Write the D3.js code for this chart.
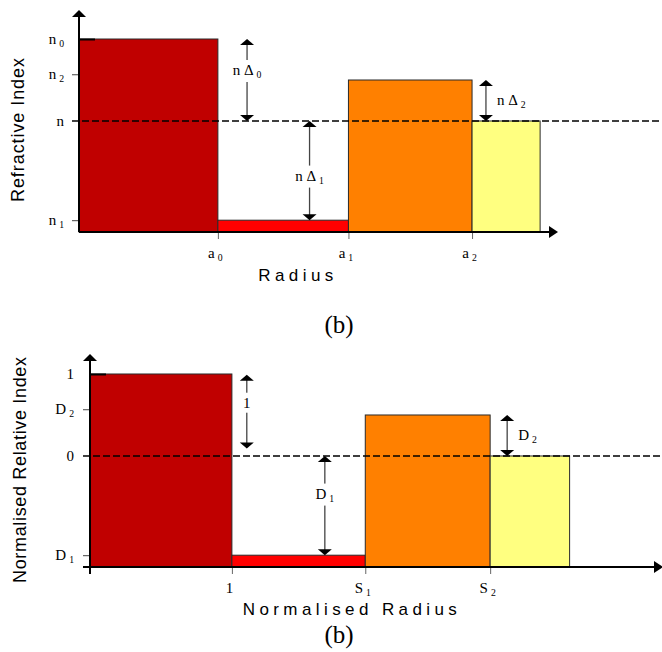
<!DOCTYPE html>
<html>
<head>
<meta charset="utf-8">
<script src="https://cdn.jsdelivr.net/npm/d3@7"></script>
<style>
  body { margin: 0; background: #fff; }
  svg { display: block; }
</style>
</head>
<body>
<div id="chart"></div>
<script>
var svgWidth = 662;
var svgHeight = 652;

// profile regions (core, ring 1, ring 2, cladding)
var regionNames = ["core", "ring1", "ring2", "cladding"];
var regionColors = ["#C00000", "#FF0000", "#FF8000", "#FFFF80"];
var profileValues = [1, -1.21, 0.5, 0];
var topOuterRadius = [1, 1.94, 2.83, 3.32];
var bottomOuterRadius = [1, 1.94, 2.82, 3.38];

// tick labels as [base, subscript]
var yTickValues = [1, 0.57, 0, -1.21];
var topYTickLabels = [["n", "0"], ["n", "2"], ["n", ""], ["n", "1"]];
var bottomYTickLabels = [["1", ""], ["D", "2"], ["0", ""], ["D", "1"]];
var topXTickLabels = [["a", "0"], ["a", "1"], ["a", "2"]];
var bottomXTickLabels = [["1", ""], ["S", "1"], ["S", "2"]];

// difference arrows: [radius, from value, to value]
var topArrows = [[1.21, 1, 0], [1.66, 0, -1.21], [2.93, 0.5, 0]];
var bottomArrows = [[1.105, 0.99, 0.09], [1.655, 0, -1.21], [2.94, 0.5, 0]];
var topArrowLabels = [["n \u0394", "0"], ["n \u0394", "1"], ["n \u0394", "2"]];
var bottomArrowLabels = [["1", ""], ["D", "1"], ["D", "2"]];

var serif = "'Liberation Serif', 'Times New Roman', serif";
var sans = "'Liberation Sans', Arial, sans-serif";

var svg = d3.select("#chart")
  .append("svg")
  .attr("width", svgWidth)
  .attr("height", svgHeight);

function subLabel(sel, parts, size) {
  sel.text(null);
  sel.append("tspan").text(parts[0]);
  if (parts[1]) {
    sel.append("tspan")
      .attr("dx", 3)
      .attr("dy", 3)
      .attr("font-size", size * 0.65)
      .text(parts[1]);
  }
}

var panels = [
  {
    outer: topOuterRadius, yLabels: topYTickLabels, xLabels: topXTickLabels,
    arrows: topArrows, arrowLabels: topArrowLabels, labelShift: [-10, 5, 0],
    left: 79, right: 554, top: 14, bottom: 232, xMax: 3.42, yMin: -1.354, yMax: 1.305,
    axisExt: 0, yLabelGap: 15,
    yTitle: "Refractive Index", yTitleX: 24, yTitleY: 130, yTitleLen: 144,
    xTitle: "Radius", xTitleX: 296, xTitleY: 281,
    caption: 333
  },
  {
    outer: bottomOuterRadius, yLabels: bottomYTickLabels, xLabels: bottomXTickLabels,
    arrows: bottomArrows, arrowLabels: bottomArrowLabels, labelShift: [-9, -12, 0],
    left: 90, right: 659, top: 358, bottom: 567, xMax: 4.01, yMin: -1.354, yMax: 1.195,
    axisExt: 7, yLabelGap: 16,
    yTitle: "Normalised Relative Index", yTitleX: 26, yTitleY: 470, yTitleLen: 226,
    xTitle: "Normalised Radius", xTitleX: 350, xTitleY: 615,
    caption: 643
  }
];

panels.forEach(function (cfg) {
  var x = d3.scaleLinear().domain([0, cfg.xMax]).range([cfg.left, cfg.right]);
  var y = d3.scaleLinear().domain([cfg.yMin, cfg.yMax]).range([cfg.bottom, cfg.top]);
  var g = svg.append("g");
  var inner = [0].concat(cfg.outer.slice(0, -1));

  // region bars
  g.selectAll("rect.region")
    .data(regionNames)
    .enter()
    .append("rect")
    .attr("class", "region")
    .attr("x", (d, i) => x(inner[i]))
    .attr("width", (d, i) => x(cfg.outer[i]) - x(inner[i]))
    .attr("y", (d, i) => y(profileValues[i]))
    .attr("height", (d, i) => y(cfg.yMin) - y(profileValues[i]))
    .attr("fill", (d, i) => regionColors[i])
    .attr("stroke", "#2a2a2a")
    .attr("stroke-width", 1);

  // reference (cladding) level
  g.append("line")
    .attr("x1", cfg.left - 7)
    .attr("x2", svgWidth)
    .attr("y1", y(0))
    .attr("y2", y(0))
    .attr("stroke", "#000")
    .attr("stroke-width", 1.6)
    .attr("stroke-dasharray", "7,3");

  // x ticks
  var xAxis = d3.axisBottom(x)
    .tickValues(cfg.outer.slice(0, 3))
    .tickSize(7)
    .tickSizeOuter(0)
    .tickFormat("");
  var xg = g.append("g")
    .attr("transform", `translate(0, ${y(cfg.yMin)})`)
    .call(xAxis);
  xg.select(".domain").remove();
  xg.selectAll(".tick line").attr("stroke", "#666");
  xg.selectAll(".tick text")
    .attr("y", 26)
    .attr("dy", null)
    .attr("dx", -3)
    .attr("fill", "#000")
    .attr("font-family", serif)
    .attr("font-size", 15)
    .attr("text-anchor", "middle")
    .each(function (d, i) { subLabel(d3.select(this), cfg.xLabels[i], 15); });

  // y ticks
  var yAxis = d3.axisLeft(y)
    .tickValues(yTickValues)
    .tickSize(7)
    .tickSizeOuter(0)
    .tickFormat("");
  var yg = g.append("g")
    .attr("transform", `translate(${cfg.left}, 0)`)
    .call(yAxis);
  yg.select(".domain").remove();
  yg.selectAll(".tick line")
    .attr("x2", (d, i) => i === 0 ? 16 : -7)
    .attr("stroke", (d, i) => i === 0 ? "#000" : "#444")
    .attr("stroke-width", (d, i) => i === 0 ? 2 : 1);
  yg.selectAll(".tick text")
    .attr("x", -cfg.yLabelGap)
    .attr("dy", "0.3em")
    .attr("fill", "#000")
    .attr("font-family", serif)
    .attr("font-size", 15)
    .attr("text-anchor", "end")
    .each(function (d, i) { subLabel(d3.select(this), cfg.yLabels[i], 15); });

  // axis lines with arrow heads
  var yTip = y(cfg.yMax);
  var xEnd = x(cfg.xMax);
  var base = y(cfg.yMin);
  g.append("line")
    .attr("x1", cfg.left).attr("x2", cfg.left)
    .attr("y1", base + cfg.axisExt).attr("y2", yTip)
    .attr("stroke", "#000").attr("stroke-width", 2);
  g.append("path")
    .attr("d", `M${cfg.left - 7},${yTip + 3}L${cfg.left},${yTip - 4}L${cfg.left + 7},${yTip + 3}Z`)
    .attr("fill", "#000");
  g.append("line")
    .attr("x1", cfg.left - cfg.axisExt).attr("x2", xEnd - 4)
    .attr("y1", base).attr("y2", base)
    .attr("stroke", "#000").attr("stroke-width", 2);
  g.append("path")
    .attr("d", `M${xEnd - 5},${base - 6}L${xEnd + 4},${base}L${xEnd - 5},${base + 6}Z`)
    .attr("fill", "#000");

  // difference arrows
  cfg.arrows.forEach(function (a, i) {
    var ax = x(a[0]);
    var y1 = y(a[1]);
    var y2 = y(a[2]);
    g.append("line")
      .attr("x1", ax).attr("x2", ax)
      .attr("y1", y1 + 5).attr("y2", y2 - 5)
      .attr("stroke", "#444").attr("stroke-width", 1.3);
    g.append("path")
      .attr("d", `M${ax - 7},${y1 + 6}L${ax},${y1}L${ax + 7},${y1 + 6}Z`)
      .attr("fill", "#000");
    g.append("path")
      .attr("d", `M${ax - 7},${y2 - 6}L${ax},${y2}L${ax + 7},${y2 - 6}Z`)
      .attr("fill", "#000");

    var onLine = i < 2;
    var label = g.append("text")
      .attr("x", onLine ? ax : ax + 11)
      .attr("y", (y1 + y2) / 2 + cfg.labelShift[i] + 5)
      .attr("text-anchor", onLine ? "middle" : "start")
      .attr("font-family", serif)
      .attr("font-size", 15)
      .attr("fill", "#000");
    subLabel(label, cfg.arrowLabels[i], 15);
    if (onLine) {
      var bb = label.node().getBBox();
      g.insert("rect", function () { return label.node(); })
        .attr("x", ax - 3)
        .attr("width", 6)
        .attr("y", bb.y - 2)
        .attr("height", bb.height + 4)
        .attr("fill", "#fff");
    }
  });

  // axis titles
  g.append("text")
    .attr("transform", `translate(${cfg.yTitleX}, ${cfg.yTitleY}) rotate(-90)`)
    .attr("text-anchor", "middle")
    .attr("font-family", sans)
    .attr("font-size", 18)
    .attr("textLength", cfg.yTitleLen)
    .attr("lengthAdjust", "spacing")
    .text(cfg.yTitle);

  g.append("text")
    .attr("x", cfg.xTitleX + 2)
    .attr("y", cfg.xTitleY)
    .attr("text-anchor", "middle")
    .attr("font-family", sans)
    .attr("font-size", 17)
    .attr("letter-spacing", 4.4)
    .text(cfg.xTitle);

  g.append("text")
    .attr("x", 339)
    .attr("y", cfg.caption)
    .attr("text-anchor", "middle")
    .attr("font-family", serif)
    .attr("font-size", 25)
    .text("(b)");
});
</script>
</body>
</html>
